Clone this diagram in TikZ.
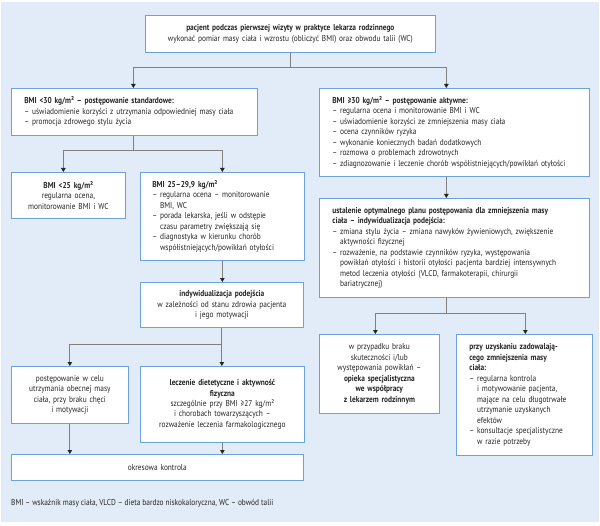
\documentclass[tikz,border=0pt]{standalone}
\usepackage{fontspec}
\setmainfont{PT Sans}[FakeStretch=0.86]
\usetikzlibrary{arrows.meta}
\definecolor{bgblue}{HTML}{E1ECF8}
\definecolor{boxblue}{HTML}{6AA3DB}
\definecolor{linegray}{HTML}{808080}
\definecolor{txt}{HTML}{252525}
\newcommand{\ind}{\phantom{– }}
\begin{document}
\begin{tikzpicture}[x=1bp,y=-1bp,
  box/.style={draw=boxblue, fill=white, line width=0.7bp, inner ysep=2bp,
    anchor=north west, font=\fontsize{8.6}{10.5}\selectfont, text=txt},
  lbox/.style={box, inner xsep=13bp, align=left},
  cbox/.style={box, inner xsep=3bp, align=center},
  conn/.style={draw=linegray, line width=0.8bp,
    -{Triangle[width=4.5bp,length=4bp,color=black!85]}}]
\useasboundingbox (0,0) rectangle (600,526);
\fill[bgblue] (1,2) rectangle (599,522);

\node[cbox, minimum width=290bp, minimum height=37bp, text width=284bp] (top) at (145,15)
 {\textbf{pacjent podczas pierwszej wizyty w praktyce lekarza rodzinnego}\\
  wykonać pomiar masy ciała i wzrostu (obliczyć BMI) oraz obwodu talii (WC)};

\node[lbox, minimum width=246bp, minimum height=47bp, text width=220bp] (bmiL) at (11,88)
 {\textbf{BMI <30 kg/m² – postępowanie standardowe:}\\
  – uświadomienie korzyści z utrzymania odpowiedniej masy ciała\\
  – promocja zdrowego stylu życia};

\node[lbox, minimum width=268bp, minimum height=88bp, text width=244bp] (bmiR) at (319,88)
 {\textbf{BMI ≥30 kg/m² – postępowanie aktywne:}\\
  – regularna ocena i monitorowanie BMI i WC\\
  – uświadomienie korzyści ze zmniejszenia masy ciała\\
  – ocena czynników ryzyka\\
  – wykonanie koniecznych badań dodatkowych\\
  – rozmowa o problemach zdrowotnych\\
  – zdiagnozowanie i leczenie chorób współistniejących/powikłań otyłości};

\node[cbox, minimum width=114bp, minimum height=46bp, text width=108bp] (bmi25) at (11,172)
 {\textbf{BMI <25 kg/m²}\\ regularna ocena,\\ monitorowanie BMI i WC};

\node[lbox, inner xsep=12bp, minimum width=160bp, minimum height=88bp, text width=140bp] (mid) at (140,172)
 {\textbf{BMI 25–29,9 kg/m²}\\
  – regularna ocena – monitorowanie\\
  \ind BMI, WC\\
  – porada lekarska, jeśli w odstępie\\
  \ind czasu parametry zwiększają się\\
  – diagnostyka w kierunku chorób\\
  \ind współistniejących/powikłań otyłości};

\node[lbox, minimum width=268bp, minimum height=99bp, text width=244bp] (ustal) at (319,198)
 {\textbf{ustalenie optymalnego planu postępowania dla zmniejszenia masy}\\
  \textbf{ciała – indywidualizacja podejścia:}\\
  – zmiana stylu życia – zmiana nawyków żywieniowych, zwiększenie\\
  \ind aktywności fizycznej\\
  – rozważenie, na podstawie czynników ryzyka, występowania\\
  \ind powikłań otyłości i historii otyłości pacjenta bardziej intensywnych\\
  \ind metod leczenia otyłości (VLCD, farmakoterapii, chirurgii\\
  \ind bariatrycznej)};

\node[cbox, minimum width=161bp, minimum height=45bp, text width=157bp] (indyw) at (140,282)
 {\textbf{indywidualizacja podejścia}\\
  w zależności od stanu zdrowia pacjenta\\ i jego motywacji};

\node[cbox, minimum width=115bp, minimum height=57bp, text width=111bp] (postep) at (11,366)
 {postępowanie w celu\\ utrzymania obecnej masy\\ ciała, przy braku chęci\\ i motywacji};

\node[cbox, minimum width=162bp, minimum height=76bp, text width=158bp] (lecz) at (140,366)
 {\textbf{leczenie dietetyczne i aktywność}\\ \textbf{fizyczna}\\
  szczególnie przy BMI ≥27 kg/m²\\ i chorobach towarzyszących –\\
  rozważenie leczenia farmakologicznego};

\node[cbox, minimum width=118bp, minimum height=79bp, text width=114bp] (wprz) at (319,334)
 {w przypadku braku\\ skuteczności i/lub\\ występowania powikłań –\\
  \textbf{opieka specjalistyczna}\\ \textbf{we współpracy}\\ \textbf{z lekarzem rodzinnym}};

\node[lbox, minimum width=131bp, minimum height=121bp, text width=110bp] (przy) at (456,334)
 {\textbf{przy uzyskaniu zadowalają-}\\
  \textbf{cego zmniejszenia masy}\\
  \textbf{ciała:}\\
  – regularna kontrola\\
  \ind i motywowanie pacjenta,\\
  \ind mające na celu długotrwałe\\
  \ind utrzymanie uzyskanych\\
  \ind efektów\\
  – konsultacje specjalistyczne\\
  \ind w razie potrzeby};

\node[cbox, minimum width=292bp, minimum height=26bp, text width=286bp] (okres) at (11,454)
 {okresowa kontrola};

\node[anchor=west, inner sep=0pt, font=\fontsize{8.6}{10.5}\selectfont, text=txt] (foot) at (11,503)
 {BMI – wskaźnik masy ciała, VLCD – dieta bardzo niskokaloryczna, WC – obwód talii};

\draw[conn] (top.south) -- ++(0,15) -| ([xshift=-1bp]bmiL.north);
\draw[conn] (top.south) -- ++(0,15) -| ([xshift=-8bp]bmiR.north);
\draw[conn] ([xshift=-1bp]bmiL.south) -- ++(0,15) -| ([xshift=-5bp]bmi25.north);
\draw[conn] ([xshift=-1bp]bmiL.south) -- ++(0,15) -| (mid.north);
\draw[conn] (mid.south) -- (mid.south |- indyw.north);
\draw[conn] (indyw.south) -- ++(0,17) -| (postep.north);
\draw[conn] (indyw.south) -- (indyw.south |- lecz.north);
\draw[conn] (postep.south) -- (postep.south |- okres.north);
\draw[conn] (lecz.south) -- (lecz.south |- okres.north);
\draw[conn] ([xshift=-8bp]bmiR.south) -- ([xshift=-8bp]bmiR.south |- ustal.north);
\draw[conn] ([xshift=-8bp]ustal.south) -- ++(0,16) -| ([xshift=-4bp]wprz.north);
\draw[conn] ([xshift=-8bp]ustal.south) -- ++(0,16) -| ([xshift=1bp]przy.north);
\end{tikzpicture}
\end{document}
